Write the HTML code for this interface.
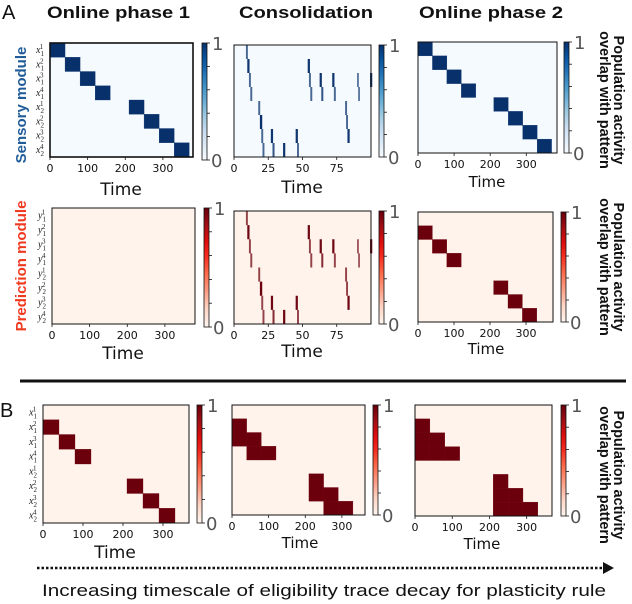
<!DOCTYPE html>
<html><head><meta charset="utf-8"><style>
html,body{margin:0;padding:0;background:#fff;}
svg{display:block;}
.dv{font-family:"DejaVu Sans","Liberation Sans",sans-serif;}
.lb text,.lb{font-family:"Liberation Sans",sans-serif;}
</style></head>
<body>
<svg id="fig" class="dv" width="632" height="604" viewBox="0 0 632 604" xmlns="http://www.w3.org/2000/svg">
<defs>
<linearGradient id="gBlues" x1="0" y1="1" x2="0" y2="0">
<stop offset="0" stop-color="#f7fbff"/><stop offset="0.125" stop-color="#deebf7"/><stop offset="0.25" stop-color="#c6dbef"/><stop offset="0.375" stop-color="#9ecae1"/><stop offset="0.5" stop-color="#6baed6"/><stop offset="0.625" stop-color="#4292c6"/><stop offset="0.75" stop-color="#2171b5"/><stop offset="0.875" stop-color="#08519c"/><stop offset="1" stop-color="#08306b"/>
</linearGradient>
<linearGradient id="gReds" x1="0" y1="1" x2="0" y2="0">
<stop offset="0" stop-color="#fff5f0"/><stop offset="0.15" stop-color="#fdd5c5"/><stop offset="0.3" stop-color="#fc9d85"/><stop offset="0.45" stop-color="#fb6a4a"/><stop offset="0.6" stop-color="#f52a1e"/><stop offset="0.72" stop-color="#e00d0d"/><stop offset="0.85" stop-color="#a50f15"/><stop offset="1" stop-color="#67000d"/>
</linearGradient>
</defs>
<g id="root"></g>
</svg>
<script>
// ---- data ----
var seqRows = [0,1,2,3,4,5,6,7];
var seqStarts = [0,40,80,120,210,250,290,330];
var predRows = [1,2,3,5,6,7];
var predStarts = [0,40,80,210,250,290];
var b2Rows = [1,2,2,3,3,5,6,6,7,7];
var b2Starts = [0,0,40,40,80,210,210,250,250,290];
var b3Rows = [1,2,3,2,3,3,5,6,7,6,7,7];
var b3Starts = [0,0,0,40,40,80,210,210,210,250,250,290];
var blockWidth = 40;
var streakTimes = [8.7,9.7,53.8,10.9,54.7,62.5,71.7,89.8,99.3,11.9,55.7,63.7,72.9,90.6,17.7,81.1,18.9,81.8,19.9,26.9,45,82.8,20.8,28.1,35.8,46];
var streakRows  = [0,1,1,2,2,2,2,2,2,3,3,3,3,3,4,4,5,5,6,6,6,6,7,7,7,7];
var streakVals  = [0.6,0.9,0.9,0.6,0.6,0.9,0.9,0.5,0.9,0.6,0.6,0.7,0.6,0.5,0.6,0.6,1,0.6,0.6,0.9,0.9,0.9,0.6,0.7,0.9,0.6];
var longTicks = [0,100,200,300];
var shortTicks = [0,25,50,75];

var NS = "http://www.w3.org/2000/svg";
var root = document.getElementById('root');
function el(tag, attrs, parent){
  var e = document.createElementNS(NS, tag);
  for (var k in attrs) e.setAttribute(k, attrs[k]);
  (parent||root).appendChild(e);
  return e;
}
function lerp(a,b,t){return Math.round(a+(b-a)*t);}
function hex(c){return [parseInt(c.substr(1,2),16),parseInt(c.substr(3,2),16),parseInt(c.substr(5,2),16)];}
function mix(c1,c2,t){var a=hex(c1),b=hex(c2);return 'rgb('+lerp(a[0],b[0],t)+','+lerp(a[1],b[1],t)+','+lerp(a[2],b[2],t)+')';}
var cm = {
  blue:{bg:'#f5faff', dark:'#08306b', grad:'url(#gBlues)'},
  red:{bg:'#fff3ec', dark:'#6b000c', grad:'url(#gReds)'}
};

function panel(p){
  var g = el('g', {});
  
  
  var c = cm[p.cmap];
  var sx = function(t){return p.x + t/p.xmax*p.w;};
  var rh = p.h/8;
  var sy = function(r){return p.y + r*rh;};
  el('rect',{x:p.x,y:p.y,width:p.w,height:p.h,fill:c.bg},g);
  if (p.rows){
    for (var i=0;i<p.rows.length;i++){
      var r = el('rect',{x:sx(p.starts[i]),y:sy(p.rows[i]),width:sx(p.starts[i]+blockWidth)-sx(p.starts[i]),height:rh,fill:c.dark,stroke:c.dark,'stroke-width':0.3},g);
      
      
    }
  }
  if (p.streaks){
    for (var j=0;j<streakTimes.length;j++){
      var wv = 1.0 + 0.7*streakVals[j];
      var s = el('rect',{x:sx(streakTimes[j]),y:sy(streakRows[j]),width:sx(wv)-sx(0),height:rh,fill:mix(c.bg,c.dark,Math.min(1,0.25+0.8*streakVals[j]))},g);
      
      
    }
  }
  el('rect',{x:p.x,y:p.y,width:p.w,height:p.h,fill:'none',stroke:'#111','stroke-width':p.thick?1.6:1},g);
  var ticks = p.ticks;
  for (var k=0;k<ticks.length;k++){
    var tx = sx(ticks[k]);
    el('line',{x1:tx,y1:p.y+p.h,x2:tx,y2:p.y+p.h+3,stroke:'#111','stroke-width':0.8},g);
    var tl = el('text',{x:tx,y:p.y+p.h+15,'font-size':11,'text-anchor':'middle',fill:'#111'},g);
    tl.textContent = ticks[k];
    
    
  }
  var xt = el('text',{x:p.timeX,y:p.timeY,'font-size':p.timeSize||16,'text-anchor':'middle',fill:'#111'},g);
  xt.textContent = 'Time';
  
  
  if (p.ylab){
    for (var m=0;m<8;m++){
      var yy = sy(m)+rh/2+3;
      var t = el('text',{x:p.x-14,y:yy,'font-size':10,'font-style':'italic','font-family':'"Liberation Serif",serif',fill:'#222'},g);
      var sub = m<4?'1':'2', sup = String(m%4+1);
      t.innerHTML = p.ylab + '<tspan font-size="7" dx="0" dy="3" font-style="normal">'+sub+'</tspan><tspan font-size="7" dx="-4" dy="-7" font-style="normal">'+sup+'</tspan>';
      
      
    }
  }
  var cb = el('g',{},g);
  
  
  var ch = p.cbh||p.h;
  el('rect',{x:p.cbx,y:p.y,width:5,height:ch,fill:c.grad,stroke:'#111','stroke-width':0.8},cb);
  for (var q=0;q<=5;q++){
    var ty = p.y + ch - q*ch/5;
    el('line',{x1:p.cbx+5,y1:ty,x2:p.cbx+8,y2:ty,stroke:'#111','stroke-width':0.8},cb);
  }
  var one = el('text',{x:p.cbx+10,y:p.y+7,'font-size':18,fill:'#555'},cb);
  one.textContent='1';
  var zero = el('text',{x:p.cbx+9,y:p.y+ch+7,'font-size':18,fill:'#555'},cb);
  zero.textContent='0';
}

panel({name:'sensory-online-phase-1',cmap:'blue',x:50,y:43,w:143,h:114,xmax:380,rows:seqRows,starts:seqStarts,ticks:longTicks,timeX:121,timeY:195,timeSize:17,ylab:'x',cbx:202,cbh:117,thick:true});
panel({name:'sensory-consolidation',cmap:'blue',x:234,y:45,w:137,h:112,xmax:100,streaks:true,ticks:shortTicks,timeX:302,timeY:193,timeSize:17,cbx:379});
panel({name:'sensory-online-phase-2',cmap:'blue',x:418,y:42,w:139,h:111,xmax:385,rows:seqRows,starts:seqStarts,ticks:longTicks,timeX:487,timeY:187,timeSize:15,cbx:564});
panel({name:'prediction-online-phase-1',cmap:'red',x:52,y:208,w:143,h:116,xmax:380,ticks:longTicks,timeX:123,timeY:359,timeSize:17,ylab:'y',cbx:204,cbh:119});
panel({name:'prediction-consolidation',cmap:'red',x:234,y:211,w:137,h:113,xmax:100,streaks:true,ticks:shortTicks,timeX:302,timeY:357,timeSize:17,cbx:379});
panel({name:'prediction-online-phase-2',cmap:'red',x:418,y:212,w:135,h:110,xmax:375,rows:predRows,starts:predStarts,ticks:longTicks,timeX:486,timeY:354,timeSize:15,cbx:561});
panel({name:'b-short-timescale',cmap:'red',x:43,y:405,w:146,h:118,xmax:365,rows:predRows,starts:predStarts,ticks:longTicks,timeX:115,timeY:558,timeSize:17,ylab:'x',cbx:197});
panel({name:'b-medium-timescale',cmap:'red',x:232,y:405,w:133,h:110,xmax:363,rows:b2Rows,starts:b2Starts,ticks:longTicks,timeX:300,timeY:548,timeSize:15,cbx:373});
panel({name:'b-long-timescale',cmap:'red',x:415,y:405,w:137,h:111,xmax:368,rows:b3Rows,starts:b3Starts,ticks:longTicks,timeX:482,timeY:549,timeSize:15,cbx:561});
</script>
<svg class="lb" style="position:absolute;left:0;top:0" width="632" height="604" viewBox="0 0 632 604" xmlns="http://www.w3.org/2000/svg">
<text x="2" y="19" font-size="20" fill="#111">A</text>
<text x="0" y="417" font-size="20" fill="#111">B</text>
<text x="47" y="18" font-size="17" font-weight="bold" textLength="143" lengthAdjust="spacingAndGlyphs" fill="#111">Online phase 1</text>
<text x="239" y="18" font-size="17" font-weight="bold" textLength="134" lengthAdjust="spacingAndGlyphs" fill="#111">Consolidation</text>
<text x="419" y="18" font-size="17" font-weight="bold" textLength="144" lengthAdjust="spacingAndGlyphs" fill="#111">Online phase 2</text>
<text transform="translate(26,105) rotate(-90)" text-anchor="middle" font-size="15" font-weight="bold" fill="#1f5c99">Sensory module</text>
<text transform="translate(26,266) rotate(-90)" text-anchor="middle" font-size="15" font-weight="bold" fill="#f03a20">Prediction module</text>
<g font-size="14.5" font-weight="bold" fill="#111" text-anchor="middle">
<text transform="translate(614,100) rotate(90)">Population activity</text>
<text transform="translate(600,100) rotate(90)">overlap with pattern</text>
</g>
<g font-size="14.5" font-weight="bold" fill="#111" text-anchor="middle">
<text transform="translate(614,267) rotate(90)">Population activity</text>
<text transform="translate(600,267) rotate(90)">overlap with pattern</text>
</g>
<g font-size="14.5" font-weight="bold" fill="#111" text-anchor="middle">
<text transform="translate(614,475) rotate(90)">Population activity</text>
<text transform="translate(600,475) rotate(90)">overlap with pattern</text>
</g>
<line x1="20" y1="381" x2="626" y2="381" stroke="#111" stroke-width="3"/>
<line x1="37" y1="568" x2="604" y2="568" stroke="#111" stroke-width="2.5" stroke-dasharray="2.5,2"/>
<polygon points="603,562 614,568 603,574" fill="#111"/>
<text x="324" y="596" font-size="17" text-anchor="middle" textLength="564" lengthAdjust="spacingAndGlyphs" fill="#111">Increasing timescale of eligibility trace decay for plasticity rule</text>
</svg>
</body></html>
